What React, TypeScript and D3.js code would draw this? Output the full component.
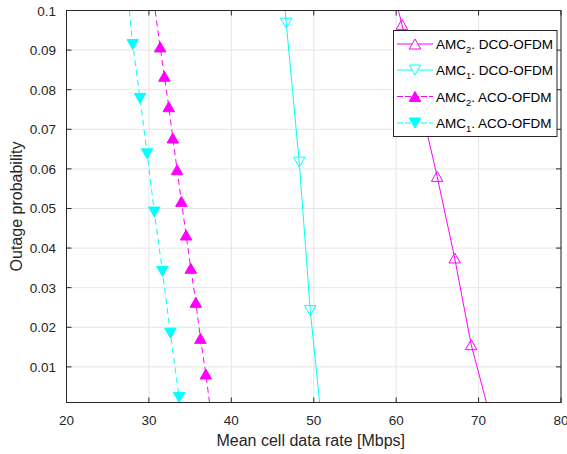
import React from "react";
import * as d3 from "d3";

const xTicks = [20, 30, 40, 50, 60, 70, 80];
const yTicks = [0.01, 0.02, 0.03, 0.04, 0.05, 0.06, 0.07, 0.08, 0.09, 0.1];
const yTickLabels = ["0.01", "0.02", "0.03", "0.04", "0.05", "0.06", "0.07", "0.08", "0.09", "0.1"];

// AMC2 DCO-OFDM
const amc2DcoLine: [number, number][] = [[60.27, 0.1], [60.7, 0.0965], [64.97, 0.0581], [67.1, 0.0375], [69.1, 0.0156], [70.96, 0.001]];
const amc2DcoMarks: [number, number][] = [[60.7, 0.0965], [64.97, 0.0581], [67.1, 0.0375], [69.1, 0.0156]];
// AMC1 DCO-OFDM
const amc1DcoLine: [number, number][] = [[46.54, 0.1], [46.66, 0.0968], [48.24, 0.0617], [49.58, 0.0242], [50.71, 0.001]];
const amc1DcoMarks: [number, number][] = [[46.66, 0.0968], [48.24, 0.0617], [49.58, 0.0242]];
// AMC2 ACO-OFDM
const amc2AcoLine: [number, number][] = [[30.75, 0.1], [31.36, 0.0908], [31.88, 0.0834], [32.41, 0.0757], [32.9, 0.0678], [33.42, 0.0598], [33.94, 0.0518], [34.51, 0.0433], [35.08, 0.0349], [35.69, 0.0263], [36.25, 0.0172], [36.91, 0.0082], [37.35, 0.001]];
const amc2AcoMarks: [number, number][] = [[31.36, 0.0908], [31.88, 0.0834], [32.41, 0.0757], [32.9, 0.0678], [33.42, 0.0598], [33.94, 0.0518], [34.51, 0.0433], [35.08, 0.0349], [35.69, 0.0263], [36.25, 0.0172], [36.91, 0.0082]];
// AMC1 ACO-OFDM
const amc1AcoLine: [number, number][] = [[27.63, 0.1], [28.04, 0.0914], [28.93, 0.0778], [29.78, 0.0638], [30.66, 0.0491], [31.64, 0.0341], [32.61, 0.0185], [33.66, 0.0023], [33.75, 0.001]];
const amc1AcoMarks: [number, number][] = [[28.04, 0.0914], [28.93, 0.0778], [29.78, 0.0638], [30.66, 0.0491], [31.64, 0.0341], [32.61, 0.0185], [33.66, 0.0023]];

const MAG = "#ff00ff";
const CYA = "#00ffff";
const AX = "#262626";
const FONT = "'Liberation Sans', Arial, Helvetica, sans-serif";

const L = 66.5, R = 561, T = 10.5, B = 402.5;

function tri(cx: number, cy: number, up: boolean, w = 11.5, h = 10) {
  if (up) return `M${cx},${cy - h / 2}L${cx + w / 2},${cy + h / 2}L${cx - w / 2},${cy + h / 2}Z`;
  return `M${cx},${cy + h / 2}L${cx + w / 2},${cy - h / 2}L${cx - w / 2},${cy - h / 2}Z`;
}

export default function App() {
  const x = d3.scaleLinear().domain([20, 80]).range([L, R]);
  const y = d3.scaleLinear().domain([0.001, 0.1]).range([B, T]);
  const line = d3.line<[number, number]>().x(d => x(d[0])).y(d => y(d[1]));

  const series = [
    { line: amc2DcoLine, marks: amc2DcoMarks, color: MAG, up: true, filled: false, dash: undefined as string | undefined, label: "2", kind: "DCO-OFDM" },
    { line: amc1DcoLine, marks: amc1DcoMarks, color: CYA, up: false, filled: false, dash: undefined, label: "1", kind: "DCO-OFDM" },
    { line: amc2AcoLine, marks: amc2AcoMarks, color: MAG, up: true, filled: true, dash: "6,4", label: "2", kind: "ACO-OFDM" },
    { line: amc1AcoLine, marks: amc1AcoMarks, color: CYA, up: false, filled: true, dash: "6,4", label: "1", kind: "ACO-OFDM" },
  ];

  const legX = 393.5, legY = 30.5, legW = 163.5, legH = 106;
  const rowY = [44, 70, 96.5, 123];

  return (
    <svg width={567} height={454} style={{ display: "block", position: "absolute", left: 0, top: 0 }} fontFamily={FONT}>
      <rect x={0} y={0} width={567} height={454} fill="#fff" />
      <defs>
        <clipPath id="clip">
          <rect x={L} y={T} width={R - L} height={B - T} />
        </clipPath>
      </defs>
      {/* grid */}
      {xTicks.map(t => (
        <line key={"gx" + t} x1={x(t)} x2={x(t)} y1={T} y2={B} stroke="#e5e5e5" strokeWidth={1} />
      ))}
      {yTicks.map(t => (
        <line key={"gy" + t} x1={L} x2={R} y1={y(t)} y2={y(t)} stroke="#e5e5e5" strokeWidth={1} />
      ))}
      {/* series */}
      <g clipPath="url(#clip)">
        {series.map((s, i) => (
          <g key={i}>
            <path d={line(s.line) || ""} fill="none" stroke={s.color} strokeWidth={1} strokeDasharray={s.dash} />
            {s.marks.map((m, j) => (
              <path key={j} d={tri(x(m[0]), y(m[1]), s.up)} fill={s.filled ? s.color : "none"} stroke={s.color} strokeWidth={1} />
            ))}
          </g>
        ))}
      </g>
      {/* axes box */}
      <rect x={L} y={T} width={R - L} height={B - T} fill="none" stroke={AX} strokeWidth={1} />
      {xTicks.map(t => (
        <g key={"tx" + t}>
          <line x1={x(t)} x2={x(t)} y1={B} y2={B - 5} stroke={AX} />
          <line x1={x(t)} x2={x(t)} y1={T} y2={T + 5} stroke={AX} />
          <text x={x(t)} y={425} textAnchor="middle" fontSize={13.5} fill={AX}>{t}</text>
        </g>
      ))}
      {yTicks.map((t, i) => (
        <g key={"ty" + t}>
          <line x1={L} x2={L + 5} y1={y(t)} y2={y(t)} stroke={AX} />
          <line x1={R} x2={R - 5} y1={y(t)} y2={y(t)} stroke={AX} />
          <text x={56} y={y(t) + 5} textAnchor="end" fontSize={13.5} fill={AX}>{yTickLabels[i]}</text>
        </g>
      ))}
      <text x={(L + R) / 2 - 3} y={446} textAnchor="middle" fontSize={16} fill={AX}>Mean cell data rate [Mbps]</text>
      <text transform={`translate(22,${(T + B) / 2}) rotate(-90)`} textAnchor="middle" fontSize={16} fill={AX}>Outage probability</text>
      {/* legend */}
      <rect x={legX} y={legY} width={legW} height={legH} fill="#fff" stroke={AX} strokeWidth={1} />
      {series.map((s, i) => (
        <g key={"lg" + i}>
          <line x1={397} x2={433} y1={rowY[i]} y2={rowY[i]} stroke={s.color} strokeWidth={1} strokeDasharray={s.dash ? "6,2" : undefined} />
          <path d={tri(415, rowY[i], s.up)} fill={s.filled ? s.color : "#fff"} stroke={s.color} strokeWidth={1} />
          <text x={436} y={rowY[i] + 5} fontSize={13.5} fill="#000">
            AMC<tspan fontSize={9.5} dy={4}>{s.label}</tspan><tspan dy={-4}>. {s.kind}</tspan>
          </text>
        </g>
      ))}
    </svg>
  );
}
